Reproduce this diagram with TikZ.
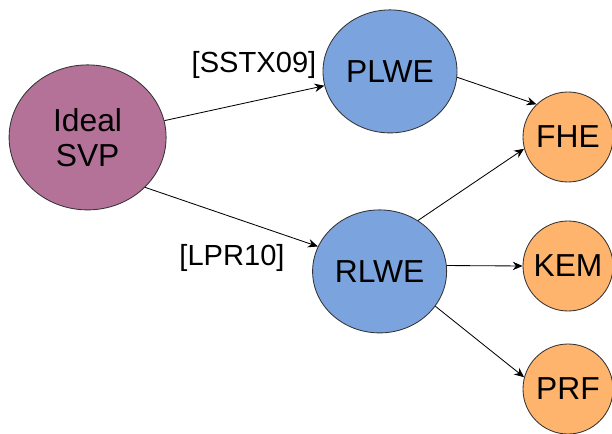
\documentclass[tikz,border=0pt]{standalone}
\usepackage{fontspec}
\setmainfont{Liberation Sans}
\usetikzlibrary{arrows.meta,shapes.geometric}

\definecolor{svppurple}{RGB}{181,114,153}
\definecolor{lweblue}{RGB}{123,164,222}
\definecolor{apporange}{RGB}{255,180,110}

\begin{document}
\begin{tikzpicture}[
    problem/.style={ellipse, draw=black!80, line width=0.6pt, inner sep=0pt,
        font=\fontsize{22.6}{25}\selectfont, align=center},
    app/.style={circle, draw=black!80, line width=0.6pt, fill=apporange,
        minimum size=2.25cm, inner sep=0pt, font=\fontsize{22.6}{25}\selectfont},
    reduce/.style={-{Stealth[length=7pt,width=6pt]}, line width=0.6pt},
    cite/.style={font=\fontsize{20.7}{24}\selectfont}
]

    % Fix the page size
    \useasboundingbox (0,0) rectangle (15.3,10.825);

    % Define the centres of the nodes
    \coordinate (S) at (2.19, 7.39);
    \coordinate (P) at (9.75, 9.04);
    \coordinate (R) at (9.49, 4.04);

    % The hard lattice problem on the left
    \node[problem, fill=svppurple, minimum width=3.925cm, minimum height=3.625cm]
        (svp) at (S) {Ideal\\SVP};

    % The two learning-with-errors problems
    \node[problem, fill=lweblue, minimum width=3.35cm, minimum height=3.075cm]
        (plwe) at (P) {PLWE};
    \node[problem, fill=lweblue, minimum width=3.35cm, minimum height=3.075cm]
        (rlwe) at (R) {RLWE};

    % The applications on the right
    \node[app] (fhe) at (14.2, 7.4) {FHE};
    \node[app] (kem) at (14.2, 4.175) {KEM};
    \node[app] (prf) at (14.2, 1.1) {PRF};

    % Reductions from Ideal SVP
    \draw[reduce] (svp) -- (plwe);
    \draw[reduce] (svp.-41) -- (rlwe.158);

    % Arrows into the applications
    \draw[reduce] (plwe.-5) -- (fhe.134);
    \draw[reduce] (rlwe.53) -- (fhe.195);
    \draw[reduce] (rlwe.5) -- (kem.west);
    \draw[reduce] (rlwe.-32) -- (prf.165);

    % Add the references next to the reductions
    \node[cite] (sstx) at (6.35, 9.2) {[SSTX09]};
    \node[cite] (lpr) at (5.8, 4.375) {[LPR10]};

\end{tikzpicture}
\end{document}
